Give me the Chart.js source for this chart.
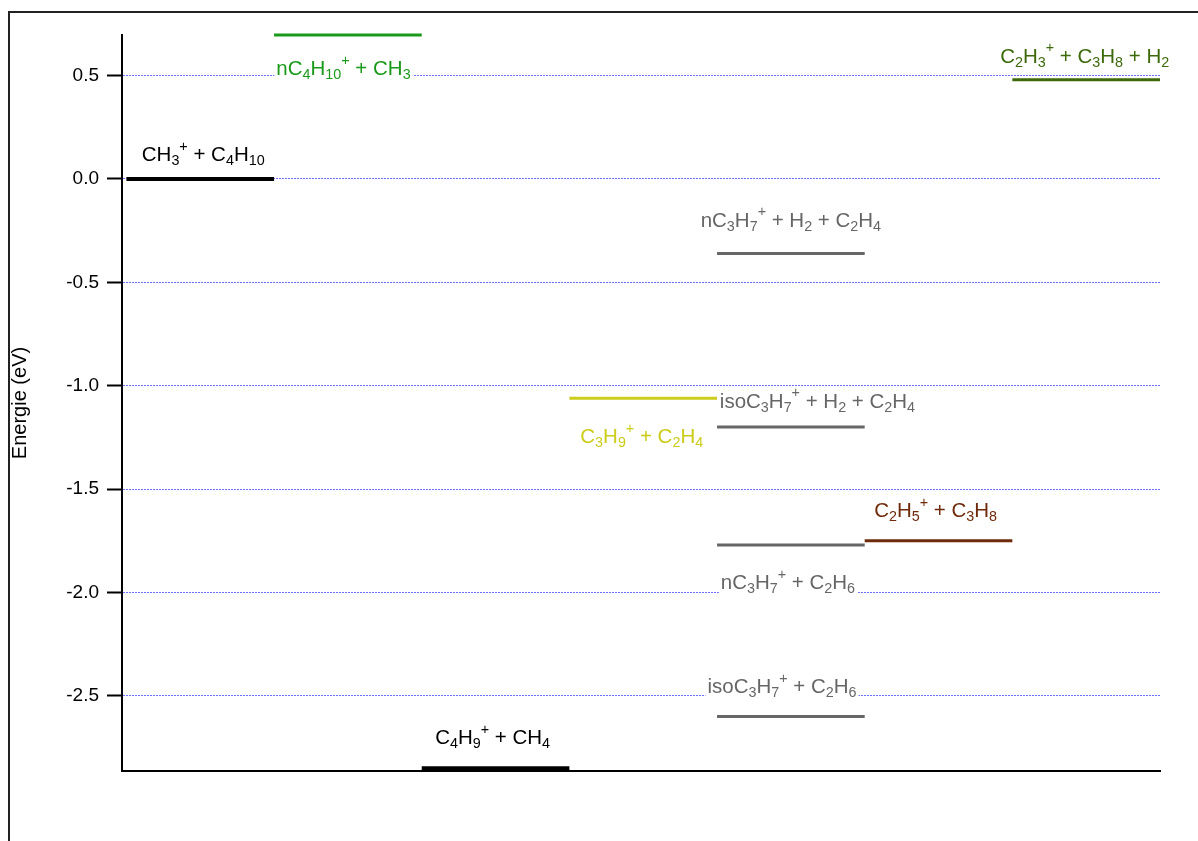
<!DOCTYPE html>
<html>
<head>
<meta charset="utf-8">
<title>Energie</title>
<script src="https://cdn.jsdelivr.net/npm/chart.js@4.4.1/dist/chart.umd.min.js"></script>
<style>
  html, body { margin: 0; padding: 0; background: #fff; }
  #chart { display: block; }
</style>
</head>
<body>
<canvas id="chart" width="1198" height="841"></canvas>
<script>
// Species of each level ( _ = subscript, ^ = superscript )
var species = [
  "CH_3^+ + C_4H_{10}",
  "nC_4H_{10}^+ + CH_3",
  "C_4H_9^+ + CH_4",
  "C_3H_9^+ + C_2H_4",
  "nC_3H_7^+ + H_2 + C_2H_4",
  "isoC_3H_7^+ + H_2 + C_2H_4",
  "nC_3H_7^+ + C_2H_6",
  "isoC_3H_7^+ + C_2H_6",
  "C_2H_5^+ + C_3H_8",
  "C_2H_3^+ + C_3H_8 + H_2"
];
// column where the level sits (0..6)
var column = [0, 1, 2, 3, 4, 4, 4, 4, 5, 6];
// energy of the level (eV)
var energy = [0, 0.696, -2.85, -1.06, -0.36, -1.2, -1.77, -2.6, -1.75, 0.48];
var colors = ["#000000", "#1a9a1a", "#000000", "#cccc1a", "#666666", "#666666",
  "#666666", "#666666", "#6e2a0a", "#3c6a0a"];
// where each label goes (centre in column units, baseline in eV)
var labelX = [0.52, 1.47, 2.48, 3.49, 4.50, 4.68, 4.48, 4.44, 5.48, 6.49];
var labelY = [0.086, 0.502, -2.733, -1.277, -0.231, -1.106, -1.983, -2.486, -1.635, 0.563];
var yTicks = [0.5, 0.0, -0.5, -1.0, -1.5, -2.0, -2.5];

var FONT = '"Liberation Sans", Arial, sans-serif';
var LABEL_SIZE = 20.5;

// split "C_3H_7^+" into normal / sub / sup pieces
function parseFormula(str) {
  var parts = [];
  var i = 0;
  while (i < str.length) {
    var c = str[i];
    if (c === '_' || c === '^') {
      var txt;
      if (str[i + 1] === '{') {
        var end = str.indexOf('}', i);
        txt = str.slice(i + 2, end);
        i = end + 1;
      } else {
        txt = str[i + 1];
        i += 2;
      }
      parts.push({ text: txt, mode: c === '_' ? 'sub' : 'sup' });
    } else {
      var j = i;
      while (j < str.length && str[j] !== '_' && str[j] !== '^') j++;
      parts.push({ text: str.slice(i, j), mode: 'normal' });
      i = j;
    }
  }
  return parts;
}

function drawFormula(ctx, str, cx, baseline, color) {
  var parts = parseFormula(str);
  var small = LABEL_SIZE * 0.7;
  var total = 0;
  parts.forEach(function (p) {
    ctx.font = (p.mode === 'normal' ? LABEL_SIZE : small) + 'px ' + FONT;
    p.w = ctx.measureText(p.text).width;
    total += p.w;
  });
  var x = cx - total / 2;
  // opaque box, hides the grid line behind the text
  ctx.fillStyle = '#ffffff';
  ctx.fillRect(x - 2, baseline - LABEL_SIZE * 0.95, total + 4, LABEL_SIZE * 1.3);
  ctx.fillStyle = color;
  ctx.textAlign = 'left';
  ctx.textBaseline = 'alphabetic';
  parts.forEach(function (p) {
    var dy = 0;
    if (p.mode === 'sub') dy = LABEL_SIZE * 0.2;
    if (p.mode === 'sup') dy = -LABEL_SIZE * 0.5;
    ctx.font = (p.mode === 'normal' ? LABEL_SIZE : small) + 'px ' + FONT;
    ctx.fillText(p.text, x, baseline + dy);
    x += p.w;
  });
}

var framePlugin = {
  id: 'frame',
  beforeDraw: function (chart) {
    var ctx = chart.ctx;
    ctx.save();
    ctx.fillStyle = '#ffffff';
    ctx.fillRect(0, 0, chart.width, chart.height);
    ctx.strokeStyle = '#222222';
    ctx.lineWidth = 2;
    ctx.beginPath();
    ctx.moveTo(9, chart.height);
    ctx.lineTo(9, 12);
    ctx.lineTo(chart.width, 12);
    ctx.stroke();
    ctx.restore();
  }
};

var labelPlugin = {
  id: 'levelLabels',
  beforeDatasetsDraw: function (chart) {
    var ctx = chart.ctx;
    var xs = chart.scales.x, ys = chart.scales.y;
    ctx.save();
    species.forEach(function (name, i) {
      drawFormula(ctx, name, xs.getPixelForValue(labelX[i]), ys.getPixelForValue(labelY[i]), colors[i]);
    });
    ctx.restore();
  }
};

var datasets = species.map(function (name, i) {
  return {
    label: name,
    data: [{ x: column[i], y: energy[i] }, { x: column[i] + 1, y: energy[i] }],
    borderColor: colors[i],
    backgroundColor: colors[i],
    borderWidth: colors[i] === '#000000' ? 4 : 3,
    pointRadius: 0,
    showLine: true,
    fill: false,
    clip: false
  };
});

var ctx = document.getElementById('chart').getContext('2d');
var chart = new Chart(ctx, {
  type: 'scatter',
  data: { datasets: datasets },
  plugins: [framePlugin, labelPlugin],
  options: {
    responsive: false,
    animation: false,
    events: [],
    layout: { padding: { top: 35, left: 0, right: 38, bottom: 70 } },
    plugins: { legend: { display: false }, tooltip: { enabled: false } },
    scales: {
      x: {
        type: 'linear',
        min: -0.03,
        max: 7,
        ticks: { display: false },
        grid: { display: false },
        border: { display: true, color: '#000000', width: 2 },
        afterFit: function (scale) { scale.height = 0; }
      },
      y: {
        min: -2.863,
        max: 0.696,
        afterBuildTicks: function (scale) {
          scale.ticks = yTicks.map(function (v) { return { value: v }; });
        },
        ticks: {
          color: '#000000',
          font: { family: FONT, size: 19 },
          padding: 8,
          callback: function (v) { return Number(v).toFixed(1); }
        },
        grid: {
          color: '#6f6fff',
          lineWidth: 1,
          tickColor: '#000000',
          tickWidth: 2,
          tickLength: 15,
          tickBorderDash: []
        },
        border: { display: true, color: '#000000', width: 2, dash: [2, 1] },
        title: {
          display: true,
          text: 'Energie (eV)',
          color: '#000000',
          font: { family: FONT, size: 20 },
          padding: { top: 8, bottom: 0 }
        },
        afterFit: function (scale) { scale.width = 122; }
      }
    }
  }
});
</script>
</body>
</html>
